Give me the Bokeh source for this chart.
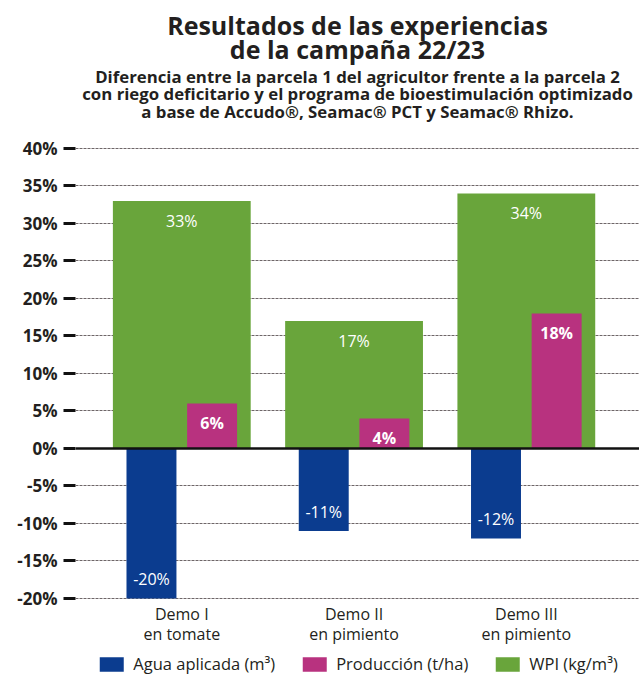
from bokeh.plotting import figure
from bokeh.models import (Range1d, FixedTicker, PrintfTickFormatter, Span, Title,
                          Legend, LegendItem, ColumnDataSource)
from bokeh.transform import dodge
from bokeh.core.properties import value
from bokeh.embed import file_html
from bokeh.resources import INLINE

# ---- data ----
categories = ["Demo I\nen tomate", "Demo II\nen pimiento", "Demo III\nen pimiento"]
agua = [-20, -11, -12]
produccion = [6, 4, 18]
wpi = [33, 17, 34]
series_names = ["Agua aplicada (m³)", "Producción (t/ha)", "WPI (kg/m³)"]
y_ticks = [-20, -15, -10, -5, 0, 5, 10, 15, 20, 25, 30, 35, 40]
title_lines = ["Resultados de las experiencias", "de la campaña 22/23"]
subtitle_lines = ["Diferencia entre la parcela 1 del agricultor frente a la parcela 2",
                  "con riego deficitario y el programa de bioestimulación optimizado",
                  "a base de Accudo®, Seamac® PCT y Seamac® Rhizo."]

# ---- style ----
BLUE = "#0b3c8f"
PINK = "#b8327f"
GREEN = "#69a53b"
FONT = "Open Sans"
TXT = "#231f20"

xs = list(range(len(categories)))


def make_src(vals):
    return ColumnDataSource(dict(
        x=xs, y=vals, label=[f"{v}%" for v in vals],
        yoff=[20 if v > 0 else -19 for v in vals]))


src_agua = make_src(agua)
src_prod = make_src(produccion)
src_wpi = make_src(wpi)
src_cat = ColumnDataSource(dict(x=xs, y=[min(y_ticks)] * len(xs), label=categories))

# frame runs from the header down to the page bottom; the area below -20 %
# holds the category names and the legend
p = figure(width=639, height=681,
           x_range=Range1d(-0.617, 2.657), y_range=Range1d(-31.07, 40.533),
           output_backend="svg", toolbar_location=None, title=None,
           x_axis_location=None,
           min_border_left=75, min_border_right=0, min_border_top=0,
           min_border_bottom=0)
p.outline_line_color = None
p.background_fill_color = "white"

# bars
r_wpi = p.vbar(x="x", top="y", bottom=0, width=0.8, source=src_wpi,
               fill_color=GREEN, line_color=None)
r_prod = p.vbar(x=dodge("x", 0.176, range=p.x_range), top="y", bottom=0, width=0.29,
                source=src_prod, fill_color=PINK, line_color=None)
r_agua = p.vbar(x=dodge("x", -0.176, range=p.x_range), top="y", bottom=0, width=0.29,
                source=src_agua, fill_color=BLUE, line_color=None)

# value labels
p.text(x="x", y="y", text="label", source=src_wpi, y_offset="yoff",
       text_color="white", text_font=value(FONT), text_font_size="16px",
       text_align="center", text_baseline="middle")
p.text(x=dodge("x", 0.176, range=p.x_range), y="y", text="label", source=src_prod,
       y_offset="yoff", text_color="white", text_font=value(FONT),
       text_font_size="16px", text_font_style="bold",
       text_align="center", text_baseline="middle")
p.text(x=dodge("x", -0.176, range=p.x_range), y="y", text="label", source=src_agua,
       y_offset="yoff", text_color="white", text_font=value(FONT),
       text_font_size="16px", text_align="center", text_baseline="middle")

# category names under the lowest grid line
p.text(x="x", y="y", text="label", source=src_cat, y_offset=5,
       text_color=TXT, text_font=value(FONT), text_font_size="16px",
       text_align="center", text_baseline="top", text_line_height=0.87)

# zero line
p.add_layout(Span(location=0, dimension="width", line_color="#111111", line_width=2.5))

# grid
p.xgrid.visible = False
p.ygrid.ticker = FixedTicker(ticks=y_ticks)
p.ygrid.grid_line_color = "#6e6668"
p.ygrid.grid_line_dash = "3 1"
p.ygrid.grid_line_width = 1

# y axis
p.yaxis.ticker = FixedTicker(ticks=y_ticks)
p.yaxis.formatter = PrintfTickFormatter(format="%d%%")
p.yaxis.axis_line_color = None
p.yaxis.major_tick_out = 12
p.yaxis.major_tick_in = 0
p.yaxis.major_tick_line_width = 3
p.yaxis.major_tick_line_color = "#111111"
p.yaxis.minor_tick_line_color = None
p.yaxis.major_label_standoff = 6
p.yaxis.major_label_text_font = FONT
p.yaxis.major_label_text_font_size = "17px"
p.yaxis.major_label_text_font_style = "bold"
p.yaxis.major_label_text_color = TXT


def spacer(standoff):
    # blank title used only to reserve vertical room in the header
    return Title(text=" ", text_font=FONT, text_font_size="10px", standoff=standoff)


# header, stacked from the frame outward
p.add_layout(spacer(4.4), "above")
sub_standoffs = [-0.9, -14.9, 1.1]
for line, so in reversed(list(zip(subtitle_lines, sub_standoffs))):
    p.add_layout(Title(text=line, align="center", vertical_align="middle",
                       text_font=FONT, text_font_size="16.8px", text_font_style="bold",
                       text_color=TXT, standoff=so), "above")
title_standoffs = [-20.05, -4.05]
for line, so in reversed(list(zip(title_lines, title_standoffs))):
    p.add_layout(Title(text=line, align="center", vertical_align="middle",
                       text_font=FONT, text_font_size="25px", text_font_style="bold",
                       text_color=TXT, standoff=so), "above")
p.add_layout(spacer(0.4), "above")

# legend at the bottom of the frame
legend = Legend(items=[LegendItem(label=series_names[0], renderers=[r_agua]),
                       LegendItem(label=series_names[1], renderers=[r_prod]),
                       LegendItem(label=series_names[2], renderers=[r_wpi])],
                location="bottom_center", orientation="horizontal",
                glyph_width=30, glyph_height=18, label_height=18,
                label_standoff=7, spacing=24, padding=0, margin=6,
                label_text_font=FONT, label_text_font_size="16.5px",
                label_text_color=TXT, border_line_color=None,
                background_fill_alpha=0)
p.add_layout(legend)

open("out.html", "w").write(file_html(p, INLINE))
